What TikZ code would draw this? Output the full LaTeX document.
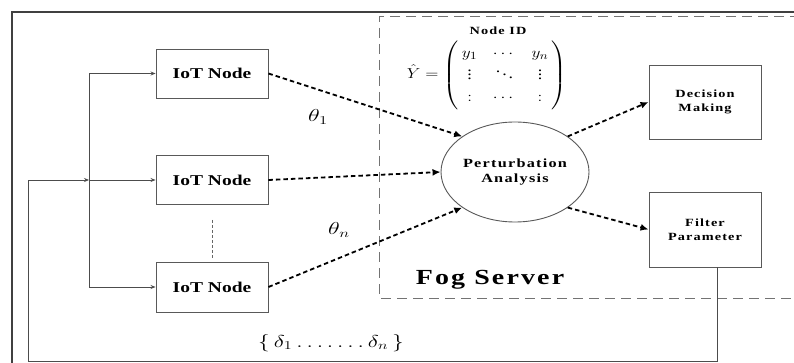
\documentclass[tikz,border=0pt]{standalone}
\usepackage{amsmath}
\usepackage{fontspec}
\setmainfont{Liberation Serif}
\newfontfamily\wa[FakeStretch=1.3]{Liberation Serif}
\newfontfamily\wb[FakeStretch=1.3,LetterSpace=10]{Liberation Serif}
\usetikzlibrary{arrows.meta,shapes.geometric,calc}
\begin{document}
\begin{tikzpicture}[x=1pt,y=-1pt,
  box/.style={draw=black!65, line width=0.9pt, minimum width=112pt, inner sep=0pt, align=center,
    font=\wb\bfseries\fontsize{11}{13.5}\selectfont},
  iot/.style={box, minimum height=49pt, font=\wa\bfseries\fontsize{15}{17}\selectfont},
  flow/.style={draw=black, line width=1.8pt, dash pattern=on 4.5pt off 3pt, -{Latex[length=8pt,width=7pt]}},
  bus/.style={draw=black!70, line width=0.8pt},
  busarrow/.style={bus, -{Stealth[length=5pt,width=4pt]}},
  lbl/.style={inner sep=0pt}
]
\useasboundingbox (0,0) rectangle (794,363);
\fill[white] (0,0) rectangle (794,363);

% outer frame
\draw[draw=black!75, line width=1.5pt] (12,370) -- (12,12) -- (800,12);
% fog server region
\draw[draw=black!55, line width=1pt, dash pattern=on 10pt off 6pt] (800,17) -- (379,17) -- (379,298) -- (800,298);

% IoT nodes
\node[iot] (n1) at (212,73.5) {IoT Node};
\node[iot] (n2) at (212,180) {IoT Node};
\node[iot, minimum height=50pt] (n3) at (212,287) {IoT Node};

% analysis
\node[draw=black!65, line width=0.9pt, ellipse, minimum width=148pt, minimum height=100pt, inner sep=0pt,
  align=center, font=\wb\bfseries\fontsize{12.5}{15}\selectfont] (pa) at (515,172) {Perturbation\\Analysis};

% output boxes
\node[box, minimum height=74pt] (dm) at (705,102) {Decision\\Making};
\node[box, minimum height=75pt] (fp) at (705,229.5) {Filter\\Parameter};

% labels
\node[lbl, font=\wb\bfseries\fontsize{11}{13}\selectfont] (nid) at (498,31) {Node ID};
\node[lbl] (mat) at (487,75) {\scalebox{1.2}[1]{\fontsize{15}{19}\selectfont\renewcommand\arraystretch{1.15}%
  $\hat{Y}=\left(\begin{array}{@{\hspace{3pt}}c@{\hspace{13pt}}c@{\hspace{13pt}}c@{\hspace{3pt}}}
  y_1 & \cdots & y_n\\ \vdots & \ddots & \vdots\\ : & \cdots & : \end{array}\right)$}};
\node[lbl] (t1) at (318,117) {\scalebox{1.4}[1]{\fontsize{18}{20}\selectfont$\theta_1$}};
\node[lbl] (tn) at (339,230) {\scalebox{1.4}[1]{\fontsize{18}{20}\selectfont$\theta_n$}};
\node[lbl, font=\wb\bfseries\fontsize{21.5}{24}\selectfont] (fog) at (490,280) {Fog Server};
\node[lbl] (del) at (331,343) {\scalebox{1.35}[1]{\fontsize{17.5}{20}\selectfont$\{\,\delta_1\,.\,.\,.\,.\,.\,.\,.\,\delta_n\,\}$}};

% dashed flows
\draw[flow] (n1.east) -- (pa.146);
\draw[flow] (n2.east) -- (pa.west);
\draw[flow] (n3.east) -- (pa.214);
\draw[flow] (pa.34) -- (dm.west);
\draw[flow] (pa.326) -- (fp.west);

% ellipsis between nodes
\draw[draw=black!60, line width=0.7pt, dash pattern=on 3pt off 2pt] ($(n2.south)+(0,15)$) -- ($(n3.north)+(0,-2)$);

% bus
\coordinate (bt) at (89,73.5);
\coordinate (bj) at (89,180);
\coordinate (bb) at (89,287);
\draw[bus] (bt) -- (bb);
\draw[busarrow] (bt) -- (n1.west);
\draw[busarrow] (bj) -- (n2.west);
\draw[busarrow] (bb) -- (n3.west);

% feedback
\path (fp.south) ++(12,0) coordinate (fs);
\coordinate (fb1) at (717,361);
\coordinate (fb2) at (28,361);
\coordinate (fb3) at (28,180);
\draw[busarrow] (fs) -- (fb1) -- (fb2) -- (fb3) -- (bj);
\end{tikzpicture}
\end{document}
